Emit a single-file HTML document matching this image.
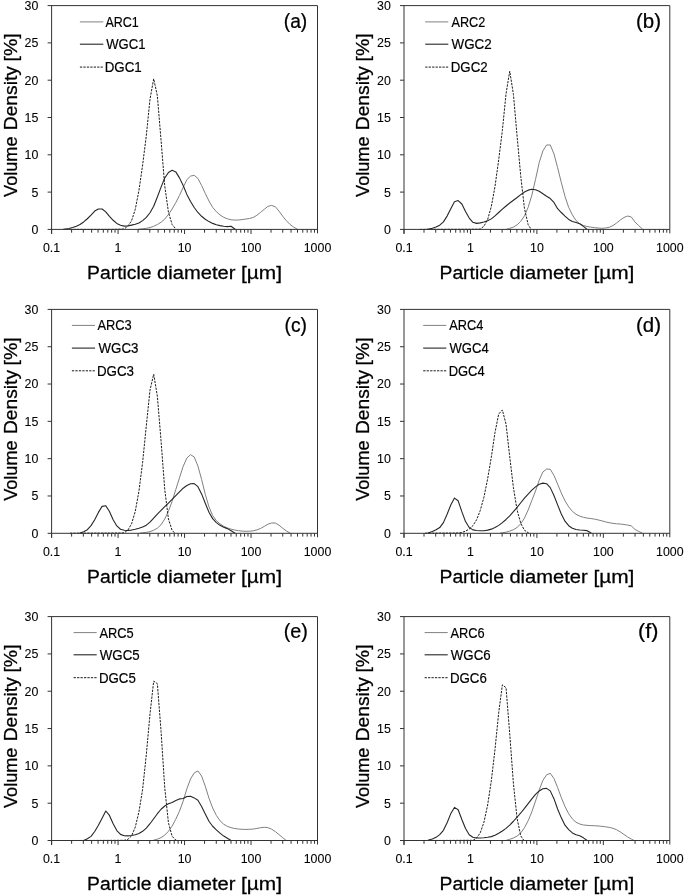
<!DOCTYPE html>
<html><head><meta charset="utf-8"><title>Particle size distributions</title>
<style>
html,body{margin:0;padding:0;background:#fff;}
body{width:685px;height:895px;overflow:hidden;font-family:"Liberation Sans",sans-serif;}
svg{display:block;will-change:transform;}
text{font-family:"Liberation Sans",sans-serif;fill:#000;}
.tk{font-size:12.4px;stroke:#000;stroke-width:0.08px;}
.ti{font-size:19.2px;stroke:#000;stroke-width:0.28px;}
.lg{font-size:14.7px;stroke:#000;stroke-width:0.18px;}
.pl{font-size:19.6px;stroke:#000;stroke-width:0.24px;}
</style></head><body>
<svg width="685" height="895" viewBox="0 0 685 895">
<rect width="685" height="895" fill="#fff"/>
<g>
<path d="M137.90 229.30L138.94 229.19L142.63 228.82L146.31 228.34L150.00 227.53L153.69 226.32L157.37 224.53L161.06 222.28L164.74 219.04L168.43 214.50L172.11 208.99L175.80 202.59L179.48 195.45L183.17 187.49L186.85 179.67L190.54 176.11L194.22 175.33L197.91 178.44L201.59 185.42L205.28 193.46L208.97 201.01L212.65 207.33L216.34 211.63L220.02 214.93L223.71 217.31L227.39 218.80L231.08 219.79L234.76 220.10L238.45 219.99L242.13 219.59L245.82 219.03L249.50 218.51L253.19 217.48L256.88 215.29L260.56 212.40L264.25 209.27L267.93 206.34L271.62 205.44L275.30 206.75L278.99 211.03L282.67 216.20L286.36 220.69L290.04 224.40L293.73 227.13L297.50 229.30" fill="none" stroke="#808080" stroke-width="1.00" stroke-linejoin="round"/>
<path d="M63.30 229.40L65.24 229.07L68.92 228.44L72.61 227.57L76.29 226.31L79.98 224.54L83.66 221.95L87.35 218.74L91.03 215.06L94.72 211.03L98.40 208.99L102.09 208.99L105.78 211.82L109.46 216.45L113.15 220.29L116.83 223.40L120.52 225.18L124.20 226.14L127.89 226.00L131.57 225.16L135.26 224.29L138.94 223.02L142.63 220.61L146.31 217.30L150.00 212.77L153.69 206.19L157.37 197.06L161.06 187.13L164.74 178.04L168.43 172.46L172.11 170.32L175.80 171.91L179.48 177.87L183.17 185.50L186.85 194.40L190.54 201.49L194.22 207.54L197.91 212.49L201.59 216.26L205.28 219.29L208.97 221.61L212.65 223.38L216.34 224.69L220.02 225.61L223.71 226.29L227.39 226.67L231.08 226.19L234.76 228.99L235.20 229.40" fill="none" stroke="#262626" stroke-width="1.10" stroke-linejoin="round"/>
<path d="M70.00 229.40L72.61 229.39L76.29 229.39L79.98 229.40L83.66 229.40L87.35 229.40L91.03 229.40L94.72 229.40L98.40 229.40L102.09 229.39L105.78 229.37L109.46 229.35L113.15 229.32L116.83 229.27L120.52 229.18L124.20 229.01L127.89 225.97L131.57 220.80L135.26 209.36L138.94 190.54L142.63 164.94L146.31 135.71L150.00 99.16L153.69 78.83L157.37 95.94L161.06 140.35L164.74 185.90L168.43 212.11L172.11 224.54L175.70 228.80" fill="none" stroke="#1c1c1c" stroke-width="1.00" stroke-dasharray="2.3 1.15" stroke-linejoin="round"/>
<path d="M47.60 5.60H317.50V233.40" fill="none" stroke="#333333" stroke-width="1"/>
<path d="M51.60 5.60V233.60H51.60" fill="none" stroke="#333333" stroke-width="1"/>
<path d="M47.60 229.40H317.50" fill="none" stroke="#333333" stroke-width="1"/>
<path d="M47.60 192.10H51.60M47.60 154.80H51.60M47.60 117.50H51.60M47.60 80.20H51.60M47.60 42.90H51.60M51.60 229.40V234.00M71.61 229.40V232.70M83.32 229.40V232.70M91.62 229.40V232.70M98.06 229.40V232.70M103.33 229.40V232.70M107.78 229.40V232.70M111.63 229.40V232.70M115.03 229.40V232.70M118.07 229.40V234.00M138.09 229.40V232.70M149.79 229.40V232.70M158.10 229.40V232.70M164.54 229.40V232.70M169.80 229.40V232.70M174.25 229.40V232.70M178.11 229.40V232.70M181.51 229.40V232.70M184.55 229.40V234.00M204.56 229.40V232.70M216.27 229.40V232.70M224.57 229.40V232.70M231.01 229.40V232.70M236.28 229.40V232.70M240.73 229.40V232.70M244.58 229.40V232.70M247.98 229.40V232.70M251.02 229.40V234.00M271.04 229.40V232.70M282.74 229.40V232.70M291.05 229.40V232.70M297.49 229.40V232.70M302.75 229.40V232.70M307.20 229.40V232.70M311.06 229.40V232.70M314.46 229.40V232.70" fill="none" stroke="#333333" stroke-width="1"/>
<text class="tk" x="38.40" y="233.85" text-anchor="end">0</text>
<text class="tk" x="38.40" y="196.55" text-anchor="end">5</text>
<text class="tk" x="38.40" y="159.25" text-anchor="end">10</text>
<text class="tk" x="38.40" y="121.95" text-anchor="end">15</text>
<text class="tk" x="38.40" y="84.65" text-anchor="end">20</text>
<text class="tk" x="38.40" y="47.35" text-anchor="end">25</text>
<text class="tk" x="38.40" y="10.05" text-anchor="end">30</text>
<text class="tk" x="51.60" y="252.30" text-anchor="middle">0.1</text>
<text class="tk" x="118.07" y="252.30" text-anchor="middle">1</text>
<text class="tk" x="184.55" y="252.30" text-anchor="middle">10</text>
<text class="tk" x="251.02" y="252.30" text-anchor="middle">100</text>
<text class="tk" x="317.50" y="252.30" text-anchor="middle">1000</text>
<text class="ti" x="87.10" y="278.90" textLength="64.40" lengthAdjust="spacingAndGlyphs">Particle</text>
<text class="ti" x="157.00" y="278.90" textLength="78.40" lengthAdjust="spacingAndGlyphs">diameter</text>
<text class="ti" x="241.00" y="278.90" textLength="41.00" lengthAdjust="spacingAndGlyphs">[µm]</text>
<text class="ti" transform="translate(17.00 196.90) rotate(-90)" textLength="60.40" lengthAdjust="spacingAndGlyphs">Volume</text>
<text class="ti" transform="translate(17.00 130.20) rotate(-90)" textLength="64.10" lengthAdjust="spacingAndGlyphs">Density</text>
<text class="ti" transform="translate(17.00 61.50) rotate(-90)" textLength="28.20" lengthAdjust="spacingAndGlyphs">[%]</text>
<path d="M79.90 21.90H103.30" stroke="#808080" stroke-width="1.00"/>
<text class="lg" x="105.50" y="26.90" textLength="33.29" lengthAdjust="spacingAndGlyphs">ARC1</text>
<path d="M79.90 44.20H103.30" stroke="#262626" stroke-width="1.10"/>
<text class="lg" x="106.26" y="49.20" textLength="39.30" lengthAdjust="spacingAndGlyphs">WGC1</text>
<path d="M79.90 67.10H103.30" stroke="#1c1c1c" stroke-width="1.00" stroke-dasharray="2.3 1.15"/>
<text class="lg" x="104.66" y="72.10" textLength="37.06" lengthAdjust="spacingAndGlyphs">DGC1</text>
<text class="pl" x="283.76" y="28.40" textLength="23.51" lengthAdjust="spacingAndGlyphs">(a)</text>
</g>
<g>
<path d="M506.30 229.30L509.73 228.34L513.42 227.07L517.10 224.86L520.78 221.28L524.47 215.77L528.15 207.31L531.84 195.26L535.52 179.38L539.20 162.60L542.89 150.95L546.57 144.96L550.26 144.99L553.94 153.79L557.62 167.66L561.31 182.50L564.99 196.39L568.68 207.39L572.36 214.88L576.04 220.54L579.73 223.75L583.41 225.52L587.10 226.47L590.78 227.14L594.46 227.60L598.15 228.04L601.83 228.31L605.52 228.03L609.20 227.25L612.88 225.64L616.57 223.06L620.25 220.04L623.94 217.51L627.62 216.02L631.30 217.00L634.99 222.03L638.67 225.53L642.36 228.98L642.80 229.40" fill="none" stroke="#808080" stroke-width="1.00" stroke-linejoin="round"/>
<path d="M426.60 229.30L428.68 228.96L432.37 228.27L436.05 227.06L439.74 225.15L443.42 221.85L447.10 216.12L450.79 208.81L454.47 201.80L458.16 200.59L461.84 203.99L465.52 211.43L469.21 218.08L472.89 222.28L476.58 223.39L480.26 222.85L483.94 222.06L487.63 220.82L491.31 218.88L495.00 215.90L498.68 212.48L502.36 209.20L506.05 205.97L509.73 202.98L513.42 200.26L517.10 197.54L520.78 194.63L524.47 191.94L528.15 190.15L531.84 189.24L535.52 189.75L539.20 191.30L542.89 193.71L546.57 196.22L550.26 198.56L553.94 202.43L557.62 208.73L561.31 212.51L564.99 216.07L568.68 219.41L572.36 221.41L576.04 222.59L579.73 223.76L583.41 226.33L587.20 229.40" fill="none" stroke="#262626" stroke-width="1.10" stroke-linejoin="round"/>
<path d="M420.00 229.40L421.32 229.40L425.00 229.38L428.68 229.37L432.37 229.36L436.05 229.35L439.74 229.34L443.42 229.33L447.10 229.32L450.79 229.31L454.47 229.30L458.16 229.29L461.84 229.27L465.52 229.26L469.21 229.24L472.89 229.21L476.58 229.19L480.26 229.09L483.94 226.24L487.63 219.55L491.31 206.55L495.00 186.53L498.68 160.01L502.36 130.47L506.05 93.72L509.73 71.21L513.42 94.39L517.10 136.20L520.78 176.44L524.47 208.53L528.15 224.63L530.80 228.80" fill="none" stroke="#1c1c1c" stroke-width="1.00" stroke-dasharray="2.3 1.15" stroke-linejoin="round"/>
<path d="M400.00 5.60H669.80V233.40" fill="none" stroke="#333333" stroke-width="1"/>
<path d="M404.00 5.60V233.60H404.00" fill="none" stroke="#333333" stroke-width="1"/>
<path d="M400.00 229.40H669.80" fill="none" stroke="#333333" stroke-width="1"/>
<path d="M400.00 192.10H404.00M400.00 154.80H404.00M400.00 117.50H404.00M400.00 80.20H404.00M400.00 42.90H404.00M404.00 229.40V234.00M424.00 229.40V232.70M435.70 229.40V232.70M444.01 229.40V232.70M450.45 229.40V232.70M455.71 229.40V232.70M460.16 229.40V232.70M464.01 229.40V232.70M467.41 229.40V232.70M470.45 229.40V234.00M490.45 229.40V232.70M502.15 229.40V232.70M510.46 229.40V232.70M516.90 229.40V232.70M522.16 229.40V232.70M526.61 229.40V232.70M530.46 229.40V232.70M533.86 229.40V232.70M536.90 229.40V234.00M556.90 229.40V232.70M568.60 229.40V232.70M576.91 229.40V232.70M583.35 229.40V232.70M588.61 229.40V232.70M593.06 229.40V232.70M596.91 229.40V232.70M600.31 229.40V232.70M603.35 229.40V234.00M623.35 229.40V232.70M635.05 229.40V232.70M643.36 229.40V232.70M649.80 229.40V232.70M655.06 229.40V232.70M659.51 229.40V232.70M663.36 229.40V232.70M666.76 229.40V232.70" fill="none" stroke="#333333" stroke-width="1"/>
<text class="tk" x="390.80" y="233.85" text-anchor="end">0</text>
<text class="tk" x="390.80" y="196.55" text-anchor="end">5</text>
<text class="tk" x="390.80" y="159.25" text-anchor="end">10</text>
<text class="tk" x="390.80" y="121.95" text-anchor="end">15</text>
<text class="tk" x="390.80" y="84.65" text-anchor="end">20</text>
<text class="tk" x="390.80" y="47.35" text-anchor="end">25</text>
<text class="tk" x="390.80" y="10.05" text-anchor="end">30</text>
<text class="tk" x="404.00" y="252.30" text-anchor="middle">0.1</text>
<text class="tk" x="470.45" y="252.30" text-anchor="middle">1</text>
<text class="tk" x="536.90" y="252.30" text-anchor="middle">10</text>
<text class="tk" x="603.35" y="252.30" text-anchor="middle">100</text>
<text class="tk" x="669.80" y="252.30" text-anchor="middle">1000</text>
<text class="ti" x="439.50" y="278.90" textLength="64.40" lengthAdjust="spacingAndGlyphs">Particle</text>
<text class="ti" x="509.40" y="278.90" textLength="78.40" lengthAdjust="spacingAndGlyphs">diameter</text>
<text class="ti" x="593.40" y="278.90" textLength="41.00" lengthAdjust="spacingAndGlyphs">[µm]</text>
<text class="ti" transform="translate(369.40 196.90) rotate(-90)" textLength="60.40" lengthAdjust="spacingAndGlyphs">Volume</text>
<text class="ti" transform="translate(369.40 130.20) rotate(-90)" textLength="64.10" lengthAdjust="spacingAndGlyphs">Density</text>
<text class="ti" transform="translate(369.40 61.50) rotate(-90)" textLength="28.20" lengthAdjust="spacingAndGlyphs">[%]</text>
<path d="M425.20 21.90H448.30" stroke="#808080" stroke-width="1.00"/>
<text class="lg" x="451.52" y="26.90" textLength="33.79" lengthAdjust="spacingAndGlyphs">ARC2</text>
<path d="M425.20 44.20H448.30" stroke="#262626" stroke-width="1.10"/>
<text class="lg" x="451.50" y="49.20" textLength="40.20" lengthAdjust="spacingAndGlyphs">WGC2</text>
<path d="M425.20 67.10H448.30" stroke="#1c1c1c" stroke-width="1.00" stroke-dasharray="2.3 1.15"/>
<text class="lg" x="450.70" y="72.10" textLength="36.96" lengthAdjust="spacingAndGlyphs">DGC2</text>
<text class="pl" x="636.00" y="28.40" textLength="24.97" lengthAdjust="spacingAndGlyphs">(b)</text>
</g>
<g>
<path d="M139.90 533.10L142.63 532.81L146.31 532.37L150.00 531.63L153.69 530.24L157.37 528.18L161.06 524.77L164.74 518.98L168.43 511.27L172.11 501.35L175.80 489.54L179.48 477.86L183.17 466.41L186.85 458.08L190.54 454.66L194.22 457.01L197.91 466.05L201.59 479.39L205.28 494.29L208.97 506.89L212.65 515.58L216.34 520.62L220.02 523.90L223.71 526.24L227.39 527.97L231.08 529.18L234.76 530.04L238.45 530.65L242.13 531.10L245.82 531.31L249.50 531.20L253.19 530.81L256.88 529.92L260.56 528.45L264.25 526.39L267.93 524.19L271.62 522.96L275.30 523.02L278.99 525.17L282.67 528.26L286.36 530.97L290.04 533.03L290.40 533.20" fill="none" stroke="#808080" stroke-width="1.00" stroke-linejoin="round"/>
<path d="M79.60 533.10L79.98 532.96L83.66 531.66L87.35 529.69L91.03 525.60L94.72 519.71L98.40 512.38L102.09 506.35L105.78 505.68L109.46 511.43L113.15 519.82L116.83 525.92L120.52 529.24L124.20 530.24L127.89 530.55L131.57 530.08L135.26 529.24L138.94 528.28L142.63 527.10L146.31 525.14L150.00 522.09L153.69 518.12L157.37 514.09L161.06 510.35L164.74 506.66L168.43 503.02L172.11 499.39L175.80 495.66L179.48 491.91L183.17 488.23L186.85 485.47L190.54 483.78L194.22 483.61L197.91 486.63L201.59 493.90L205.28 503.29L208.97 512.27L212.65 518.63L216.34 522.57L220.02 525.35L223.71 527.27L227.39 528.63L231.08 530.75L234.76 532.95L235.20 533.20" fill="none" stroke="#262626" stroke-width="1.10" stroke-linejoin="round"/>
<path d="M70.00 533.20L72.61 533.19L76.29 533.18L79.98 533.17L83.66 533.16L87.35 533.15L91.03 533.13L94.72 533.12L98.40 533.11L102.09 533.09L105.78 533.08L109.46 533.06L113.15 533.04L116.83 533.01L120.52 532.99L124.20 532.82L127.89 530.04L131.57 523.87L135.26 511.41L138.94 491.20L142.63 462.20L146.31 425.80L150.00 390.20L153.69 374.20L157.37 396.19L161.06 441.02L164.74 489.42L168.43 518.94L172.11 530.37L174.70 533.00" fill="none" stroke="#1c1c1c" stroke-width="1.00" stroke-dasharray="2.3 1.15" stroke-linejoin="round"/>
<path d="M47.60 309.40H317.50V537.30" fill="none" stroke="#333333" stroke-width="1"/>
<path d="M51.60 309.40V537.50H51.60" fill="none" stroke="#333333" stroke-width="1"/>
<path d="M47.60 533.30H317.50" fill="none" stroke="#333333" stroke-width="1"/>
<path d="M47.60 495.98H51.60M47.60 458.67H51.60M47.60 421.35H51.60M47.60 384.03H51.60M47.60 346.72H51.60M51.60 533.30V537.90M71.61 533.30V536.60M83.32 533.30V536.60M91.62 533.30V536.60M98.06 533.30V536.60M103.33 533.30V536.60M107.78 533.30V536.60M111.63 533.30V536.60M115.03 533.30V536.60M118.07 533.30V537.90M138.09 533.30V536.60M149.79 533.30V536.60M158.10 533.30V536.60M164.54 533.30V536.60M169.80 533.30V536.60M174.25 533.30V536.60M178.11 533.30V536.60M181.51 533.30V536.60M184.55 533.30V537.90M204.56 533.30V536.60M216.27 533.30V536.60M224.57 533.30V536.60M231.01 533.30V536.60M236.28 533.30V536.60M240.73 533.30V536.60M244.58 533.30V536.60M247.98 533.30V536.60M251.02 533.30V537.90M271.04 533.30V536.60M282.74 533.30V536.60M291.05 533.30V536.60M297.49 533.30V536.60M302.75 533.30V536.60M307.20 533.30V536.60M311.06 533.30V536.60M314.46 533.30V536.60" fill="none" stroke="#333333" stroke-width="1"/>
<text class="tk" x="38.40" y="537.75" text-anchor="end">0</text>
<text class="tk" x="38.40" y="500.43" text-anchor="end">5</text>
<text class="tk" x="38.40" y="463.12" text-anchor="end">10</text>
<text class="tk" x="38.40" y="425.80" text-anchor="end">15</text>
<text class="tk" x="38.40" y="388.48" text-anchor="end">20</text>
<text class="tk" x="38.40" y="351.17" text-anchor="end">25</text>
<text class="tk" x="38.40" y="313.85" text-anchor="end">30</text>
<text class="tk" x="51.60" y="556.20" text-anchor="middle">0.1</text>
<text class="tk" x="118.07" y="556.20" text-anchor="middle">1</text>
<text class="tk" x="184.55" y="556.20" text-anchor="middle">10</text>
<text class="tk" x="251.02" y="556.20" text-anchor="middle">100</text>
<text class="tk" x="317.50" y="556.20" text-anchor="middle">1000</text>
<text class="ti" x="87.10" y="582.80" textLength="64.40" lengthAdjust="spacingAndGlyphs">Particle</text>
<text class="ti" x="157.00" y="582.80" textLength="78.40" lengthAdjust="spacingAndGlyphs">diameter</text>
<text class="ti" x="241.00" y="582.80" textLength="41.00" lengthAdjust="spacingAndGlyphs">[µm]</text>
<text class="ti" transform="translate(17.00 500.80) rotate(-90)" textLength="60.40" lengthAdjust="spacingAndGlyphs">Volume</text>
<text class="ti" transform="translate(17.00 434.10) rotate(-90)" textLength="64.10" lengthAdjust="spacingAndGlyphs">Density</text>
<text class="ti" transform="translate(17.00 365.40) rotate(-90)" textLength="28.20" lengthAdjust="spacingAndGlyphs">[%]</text>
<path d="M71.90 325.40H95.00" stroke="#808080" stroke-width="1.00"/>
<text class="lg" x="97.48" y="330.40" textLength="34.30" lengthAdjust="spacingAndGlyphs">ARC3</text>
<path d="M71.90 348.10H95.00" stroke="#262626" stroke-width="1.10"/>
<text class="lg" x="98.52" y="353.10" textLength="39.89" lengthAdjust="spacingAndGlyphs">WGC3</text>
<path d="M71.90 370.80H95.00" stroke="#1c1c1c" stroke-width="1.00" stroke-dasharray="2.3 1.15"/>
<text class="lg" x="96.92" y="375.80" textLength="37.06" lengthAdjust="spacingAndGlyphs">DGC3</text>
<text class="pl" x="284.50" y="331.80" textLength="22.38" lengthAdjust="spacingAndGlyphs">(c)</text>
</g>
<g>
<path d="M500.10 533.10L502.36 532.77L506.05 532.17L509.73 531.13L513.42 529.67L517.10 527.45L520.78 523.79L524.47 518.07L528.15 510.05L531.84 500.42L535.52 491.01L539.20 480.18L542.89 472.01L546.57 469.03L550.26 469.28L553.94 475.32L557.62 484.07L561.31 493.00L564.99 500.85L568.68 506.84L572.36 511.34L576.04 514.29L579.73 516.08L583.41 517.31L587.10 518.08L590.78 518.55L594.46 519.10L598.15 519.93L601.83 520.84L605.52 521.86L609.20 522.71L612.88 523.34L616.57 523.78L620.25 524.04L623.94 524.46L627.62 525.08L631.30 525.86L634.99 529.44L638.67 531.39L642.40 533.20" fill="none" stroke="#808080" stroke-width="1.00" stroke-linejoin="round"/>
<path d="M427.60 533.10L428.68 532.73L432.37 531.48L436.05 529.83L439.74 527.59L443.42 522.63L447.10 514.20L450.79 505.05L454.47 498.09L458.16 500.81L461.84 511.65L465.52 521.57L469.21 527.57L472.89 529.90L476.58 530.55L480.26 530.72L483.94 530.71L487.63 530.15L491.31 529.15L495.00 527.57L498.68 525.40L502.36 522.65L506.05 519.46L509.73 515.83L513.42 511.73L517.10 507.38L520.78 502.72L524.47 498.08L528.15 494.01L531.84 490.19L535.52 486.83L539.20 484.30L542.89 483.11L546.57 483.69L550.26 487.64L553.94 495.45L557.62 504.91L561.31 513.97L564.99 521.17L568.68 525.69L572.36 528.22L576.04 529.50L579.73 530.05L583.41 530.31L587.10 530.67L590.78 532.82L591.30 533.20" fill="none" stroke="#262626" stroke-width="1.10" stroke-linejoin="round"/>
<path d="M425.00 533.20L428.68 533.18L432.37 533.16L436.05 533.14L439.74 533.12L443.42 533.10L447.10 533.08L450.79 533.05L454.47 533.01L458.16 532.98L461.84 532.45L465.52 531.14L469.21 529.00L472.89 525.69L476.58 519.79L480.26 510.50L483.94 497.19L487.63 478.89L491.31 457.23L495.00 432.43L498.68 414.09L502.36 409.95L506.05 424.29L509.73 456.76L513.42 487.72L517.10 510.14L520.78 523.41L524.47 530.25L528.15 532.67L528.80 533.00" fill="none" stroke="#1c1c1c" stroke-width="1.00" stroke-dasharray="2.3 1.15" stroke-linejoin="round"/>
<path d="M400.00 309.40H669.80V537.30" fill="none" stroke="#333333" stroke-width="1"/>
<path d="M404.00 309.40V537.50H404.00" fill="none" stroke="#333333" stroke-width="1"/>
<path d="M400.00 533.30H669.80" fill="none" stroke="#333333" stroke-width="1"/>
<path d="M400.00 495.98H404.00M400.00 458.67H404.00M400.00 421.35H404.00M400.00 384.03H404.00M400.00 346.72H404.00M404.00 533.30V537.90M424.00 533.30V536.60M435.70 533.30V536.60M444.01 533.30V536.60M450.45 533.30V536.60M455.71 533.30V536.60M460.16 533.30V536.60M464.01 533.30V536.60M467.41 533.30V536.60M470.45 533.30V537.90M490.45 533.30V536.60M502.15 533.30V536.60M510.46 533.30V536.60M516.90 533.30V536.60M522.16 533.30V536.60M526.61 533.30V536.60M530.46 533.30V536.60M533.86 533.30V536.60M536.90 533.30V537.90M556.90 533.30V536.60M568.60 533.30V536.60M576.91 533.30V536.60M583.35 533.30V536.60M588.61 533.30V536.60M593.06 533.30V536.60M596.91 533.30V536.60M600.31 533.30V536.60M603.35 533.30V537.90M623.35 533.30V536.60M635.05 533.30V536.60M643.36 533.30V536.60M649.80 533.30V536.60M655.06 533.30V536.60M659.51 533.30V536.60M663.36 533.30V536.60M666.76 533.30V536.60" fill="none" stroke="#333333" stroke-width="1"/>
<text class="tk" x="390.80" y="537.75" text-anchor="end">0</text>
<text class="tk" x="390.80" y="500.43" text-anchor="end">5</text>
<text class="tk" x="390.80" y="463.12" text-anchor="end">10</text>
<text class="tk" x="390.80" y="425.80" text-anchor="end">15</text>
<text class="tk" x="390.80" y="388.48" text-anchor="end">20</text>
<text class="tk" x="390.80" y="351.17" text-anchor="end">25</text>
<text class="tk" x="390.80" y="313.85" text-anchor="end">30</text>
<text class="tk" x="404.00" y="556.20" text-anchor="middle">0.1</text>
<text class="tk" x="470.45" y="556.20" text-anchor="middle">1</text>
<text class="tk" x="536.90" y="556.20" text-anchor="middle">10</text>
<text class="tk" x="603.35" y="556.20" text-anchor="middle">100</text>
<text class="tk" x="669.80" y="556.20" text-anchor="middle">1000</text>
<text class="ti" x="439.50" y="582.80" textLength="64.40" lengthAdjust="spacingAndGlyphs">Particle</text>
<text class="ti" x="509.40" y="582.80" textLength="78.40" lengthAdjust="spacingAndGlyphs">diameter</text>
<text class="ti" x="593.40" y="582.80" textLength="41.00" lengthAdjust="spacingAndGlyphs">[µm]</text>
<text class="ti" transform="translate(369.40 500.80) rotate(-90)" textLength="60.40" lengthAdjust="spacingAndGlyphs">Volume</text>
<text class="ti" transform="translate(369.40 434.10) rotate(-90)" textLength="64.10" lengthAdjust="spacingAndGlyphs">Density</text>
<text class="ti" transform="translate(369.40 365.40) rotate(-90)" textLength="28.20" lengthAdjust="spacingAndGlyphs">[%]</text>
<path d="M423.20 325.40H446.30" stroke="#808080" stroke-width="1.00"/>
<text class="lg" x="449.26" y="330.40" textLength="34.09" lengthAdjust="spacingAndGlyphs">ARC4</text>
<path d="M423.20 348.10H446.30" stroke="#262626" stroke-width="1.10"/>
<text class="lg" x="449.50" y="353.10" textLength="39.19" lengthAdjust="spacingAndGlyphs">WGC4</text>
<path d="M423.20 370.80H446.30" stroke="#1c1c1c" stroke-width="1.00" stroke-dasharray="2.3 1.15"/>
<text class="lg" x="448.70" y="375.80" textLength="35.96" lengthAdjust="spacingAndGlyphs">DGC4</text>
<text class="pl" x="636.00" y="331.80" textLength="24.97" lengthAdjust="spacingAndGlyphs">(d)</text>
</g>
<g>
<path d="M153.20 840.30L153.69 840.16L157.37 839.15L161.06 837.65L164.74 835.16L168.43 831.29L172.11 826.09L175.80 819.18L179.48 811.19L183.17 801.14L186.85 788.88L190.54 778.96L194.22 772.91L197.91 770.92L201.59 775.99L205.28 786.17L208.97 798.24L212.65 807.96L216.34 815.42L220.02 820.75L223.71 824.23L227.39 826.37L231.08 827.69L234.76 828.52L238.45 829.03L242.13 829.33L245.82 829.40L249.50 829.31L253.19 829.04L256.88 828.45L260.56 827.72L264.25 827.26L267.93 827.70L271.62 829.17L275.30 831.61L278.99 834.60L282.67 837.68L286.30 840.50" fill="none" stroke="#808080" stroke-width="1.00" stroke-linejoin="round"/>
<path d="M83.70 840.40L87.35 838.72L91.03 836.38L94.72 831.49L98.40 825.25L102.09 818.25L105.78 811.00L109.46 815.44L113.15 823.78L116.83 830.60L120.52 834.36L124.20 835.70L127.89 835.90L131.57 835.52L135.26 834.77L138.94 833.48L142.63 831.32L146.31 828.09L150.00 823.72L153.69 818.78L157.37 813.70L161.06 809.26L164.74 805.97L168.43 803.85L172.11 802.42L175.80 800.52L179.48 798.91L183.17 798.50L186.85 796.43L190.54 796.22L194.22 797.89L197.91 800.26L201.59 806.44L205.28 814.00L208.97 821.21L212.65 826.24L216.34 829.89L220.02 833.18L223.71 836.06L227.39 838.24L231.10 840.50" fill="none" stroke="#262626" stroke-width="1.10" stroke-linejoin="round"/>
<path d="M72.00 840.50L72.61 840.50L76.29 840.48L79.98 840.47L83.66 840.46L87.35 840.45L91.03 840.43L94.72 840.42L98.40 840.41L102.09 840.39L105.78 840.38L109.46 840.36L113.15 840.35L116.83 840.32L120.52 840.30L124.20 840.32L127.89 839.38L131.57 835.85L135.26 827.16L138.94 811.84L142.63 789.28L146.31 754.58L150.00 714.01L153.69 681.16L157.37 683.68L161.06 731.32L164.74 787.72L168.43 822.73L172.11 836.28L175.80 840.02L176.70 840.40" fill="none" stroke="#1c1c1c" stroke-width="1.00" stroke-dasharray="2.3 1.15" stroke-linejoin="round"/>
<path d="M47.60 616.60H317.50V844.50" fill="none" stroke="#333333" stroke-width="1"/>
<path d="M51.60 616.60V844.70H51.60" fill="none" stroke="#333333" stroke-width="1"/>
<path d="M47.60 840.50H317.50" fill="none" stroke="#333333" stroke-width="1"/>
<path d="M47.60 803.18H51.60M47.60 765.87H51.60M47.60 728.55H51.60M47.60 691.23H51.60M47.60 653.92H51.60M51.60 840.50V845.10M71.61 840.50V843.80M83.32 840.50V843.80M91.62 840.50V843.80M98.06 840.50V843.80M103.33 840.50V843.80M107.78 840.50V843.80M111.63 840.50V843.80M115.03 840.50V843.80M118.07 840.50V845.10M138.09 840.50V843.80M149.79 840.50V843.80M158.10 840.50V843.80M164.54 840.50V843.80M169.80 840.50V843.80M174.25 840.50V843.80M178.11 840.50V843.80M181.51 840.50V843.80M184.55 840.50V845.10M204.56 840.50V843.80M216.27 840.50V843.80M224.57 840.50V843.80M231.01 840.50V843.80M236.28 840.50V843.80M240.73 840.50V843.80M244.58 840.50V843.80M247.98 840.50V843.80M251.02 840.50V845.10M271.04 840.50V843.80M282.74 840.50V843.80M291.05 840.50V843.80M297.49 840.50V843.80M302.75 840.50V843.80M307.20 840.50V843.80M311.06 840.50V843.80M314.46 840.50V843.80" fill="none" stroke="#333333" stroke-width="1"/>
<text class="tk" x="38.40" y="844.95" text-anchor="end">0</text>
<text class="tk" x="38.40" y="807.63" text-anchor="end">5</text>
<text class="tk" x="38.40" y="770.32" text-anchor="end">10</text>
<text class="tk" x="38.40" y="733.00" text-anchor="end">15</text>
<text class="tk" x="38.40" y="695.68" text-anchor="end">20</text>
<text class="tk" x="38.40" y="658.37" text-anchor="end">25</text>
<text class="tk" x="38.40" y="621.05" text-anchor="end">30</text>
<text class="tk" x="51.60" y="863.40" text-anchor="middle">0.1</text>
<text class="tk" x="118.07" y="863.40" text-anchor="middle">1</text>
<text class="tk" x="184.55" y="863.40" text-anchor="middle">10</text>
<text class="tk" x="251.02" y="863.40" text-anchor="middle">100</text>
<text class="tk" x="317.50" y="863.40" text-anchor="middle">1000</text>
<text class="ti" x="87.10" y="890.00" textLength="64.40" lengthAdjust="spacingAndGlyphs">Particle</text>
<text class="ti" x="157.00" y="890.00" textLength="78.40" lengthAdjust="spacingAndGlyphs">diameter</text>
<text class="ti" x="241.00" y="890.00" textLength="41.00" lengthAdjust="spacingAndGlyphs">[µm]</text>
<text class="ti" transform="translate(17.00 808.00) rotate(-90)" textLength="60.40" lengthAdjust="spacingAndGlyphs">Volume</text>
<text class="ti" transform="translate(17.00 741.30) rotate(-90)" textLength="64.10" lengthAdjust="spacingAndGlyphs">Density</text>
<text class="ti" transform="translate(17.00 672.60) rotate(-90)" textLength="28.20" lengthAdjust="spacingAndGlyphs">[%]</text>
<path d="M73.60 632.60H96.70" stroke="#808080" stroke-width="1.00"/>
<text class="lg" x="99.50" y="637.60" textLength="34.21" lengthAdjust="spacingAndGlyphs">ARC5</text>
<path d="M73.60 654.80H96.70" stroke="#262626" stroke-width="1.10"/>
<text class="lg" x="99.74" y="659.80" textLength="39.89" lengthAdjust="spacingAndGlyphs">WGC5</text>
<path d="M73.60 677.70H96.70" stroke="#1c1c1c" stroke-width="1.00" stroke-dasharray="2.3 1.15"/>
<text class="lg" x="98.94" y="682.70" textLength="36.92" lengthAdjust="spacingAndGlyphs">DGC5</text>
<text class="pl" x="283.76" y="638.30" textLength="24.16" lengthAdjust="spacingAndGlyphs">(e)</text>
</g>
<g>
<path d="M506.30 840.30L509.73 839.31L513.42 837.99L517.10 836.04L520.78 832.88L524.47 827.68L528.15 820.75L531.84 811.85L535.52 801.08L539.20 790.08L542.89 780.43L546.57 774.85L550.26 773.33L553.94 778.41L557.62 787.49L561.31 797.55L564.99 806.56L568.68 813.71L572.36 818.94L576.04 822.23L579.73 824.01L583.41 824.97L587.10 825.35L590.78 825.59L594.46 825.74L598.15 825.96L601.83 826.34L605.52 826.82L609.20 827.35L612.88 828.25L616.57 829.72L620.25 831.86L623.94 834.46L627.62 836.97L631.30 839.08L634.20 840.50" fill="none" stroke="#808080" stroke-width="1.00" stroke-linejoin="round"/>
<path d="M427.60 840.40L428.68 840.06L432.37 838.93L436.05 837.36L439.74 834.66L443.42 830.29L447.10 822.73L450.79 813.59L454.47 807.41L458.16 809.75L461.84 819.53L465.52 828.56L469.21 834.76L472.89 837.27L476.58 837.97L480.26 837.97L483.94 837.71L487.63 837.26L491.31 836.61L495.00 835.27L498.68 833.26L502.36 830.96L506.05 828.33L509.73 825.06L513.42 821.25L517.10 817.24L520.78 812.98L524.47 808.41L528.15 803.63L531.84 798.81L535.52 794.39L539.20 790.90L542.89 788.77L546.57 788.39L550.26 790.88L553.94 798.66L557.62 808.97L561.31 817.87L564.99 825.17L568.68 829.67L572.36 832.90L576.04 834.70L579.73 835.82L583.41 837.85L587.20 840.50" fill="none" stroke="#262626" stroke-width="1.10" stroke-linejoin="round"/>
<path d="M425.00 840.50L428.68 840.48L432.37 840.47L436.05 840.46L439.74 840.44L443.42 840.43L447.10 840.41L450.79 840.40L454.47 840.38L458.16 840.36L461.84 840.34L465.52 840.31L469.21 840.29L472.89 840.37L476.58 838.06L480.26 832.85L483.94 822.19L487.63 805.02L491.31 780.84L495.00 749.43L498.68 712.90L502.36 684.89L506.05 687.69L509.73 733.88L513.42 783.59L517.10 818.63L520.78 835.94L523.60 840.00" fill="none" stroke="#1c1c1c" stroke-width="1.00" stroke-dasharray="2.3 1.15" stroke-linejoin="round"/>
<path d="M400.00 616.60H669.80V844.50" fill="none" stroke="#333333" stroke-width="1"/>
<path d="M404.00 616.60V844.70H404.00" fill="none" stroke="#333333" stroke-width="1"/>
<path d="M400.00 840.50H669.80" fill="none" stroke="#333333" stroke-width="1"/>
<path d="M400.00 803.18H404.00M400.00 765.87H404.00M400.00 728.55H404.00M400.00 691.23H404.00M400.00 653.92H404.00M404.00 840.50V845.10M424.00 840.50V843.80M435.70 840.50V843.80M444.01 840.50V843.80M450.45 840.50V843.80M455.71 840.50V843.80M460.16 840.50V843.80M464.01 840.50V843.80M467.41 840.50V843.80M470.45 840.50V845.10M490.45 840.50V843.80M502.15 840.50V843.80M510.46 840.50V843.80M516.90 840.50V843.80M522.16 840.50V843.80M526.61 840.50V843.80M530.46 840.50V843.80M533.86 840.50V843.80M536.90 840.50V845.10M556.90 840.50V843.80M568.60 840.50V843.80M576.91 840.50V843.80M583.35 840.50V843.80M588.61 840.50V843.80M593.06 840.50V843.80M596.91 840.50V843.80M600.31 840.50V843.80M603.35 840.50V845.10M623.35 840.50V843.80M635.05 840.50V843.80M643.36 840.50V843.80M649.80 840.50V843.80M655.06 840.50V843.80M659.51 840.50V843.80M663.36 840.50V843.80M666.76 840.50V843.80" fill="none" stroke="#333333" stroke-width="1"/>
<text class="tk" x="390.80" y="844.95" text-anchor="end">0</text>
<text class="tk" x="390.80" y="807.63" text-anchor="end">5</text>
<text class="tk" x="390.80" y="770.32" text-anchor="end">10</text>
<text class="tk" x="390.80" y="733.00" text-anchor="end">15</text>
<text class="tk" x="390.80" y="695.68" text-anchor="end">20</text>
<text class="tk" x="390.80" y="658.37" text-anchor="end">25</text>
<text class="tk" x="390.80" y="621.05" text-anchor="end">30</text>
<text class="tk" x="404.00" y="863.40" text-anchor="middle">0.1</text>
<text class="tk" x="470.45" y="863.40" text-anchor="middle">1</text>
<text class="tk" x="536.90" y="863.40" text-anchor="middle">10</text>
<text class="tk" x="603.35" y="863.40" text-anchor="middle">100</text>
<text class="tk" x="669.80" y="863.40" text-anchor="middle">1000</text>
<text class="ti" x="439.50" y="890.00" textLength="64.40" lengthAdjust="spacingAndGlyphs">Particle</text>
<text class="ti" x="509.40" y="890.00" textLength="78.40" lengthAdjust="spacingAndGlyphs">diameter</text>
<text class="ti" x="593.40" y="890.00" textLength="41.00" lengthAdjust="spacingAndGlyphs">[µm]</text>
<text class="ti" transform="translate(369.40 808.00) rotate(-90)" textLength="60.40" lengthAdjust="spacingAndGlyphs">Volume</text>
<text class="ti" transform="translate(369.40 741.30) rotate(-90)" textLength="64.10" lengthAdjust="spacingAndGlyphs">Density</text>
<text class="ti" transform="translate(369.40 672.60) rotate(-90)" textLength="28.20" lengthAdjust="spacingAndGlyphs">[%]</text>
<path d="M424.60 632.60H447.70" stroke="#808080" stroke-width="1.00"/>
<text class="lg" x="450.50" y="637.60" textLength="34.21" lengthAdjust="spacingAndGlyphs">ARC6</text>
<path d="M424.60 654.80H447.70" stroke="#262626" stroke-width="1.10"/>
<text class="lg" x="450.74" y="659.80" textLength="39.89" lengthAdjust="spacingAndGlyphs">WGC6</text>
<path d="M424.60 677.70H447.70" stroke="#1c1c1c" stroke-width="1.00" stroke-dasharray="2.3 1.15"/>
<text class="lg" x="449.94" y="682.70" textLength="36.92" lengthAdjust="spacingAndGlyphs">DGC6</text>
<text class="pl" x="638.00" y="638.30" textLength="20.32" lengthAdjust="spacingAndGlyphs">(f)</text>
</g>
</svg>
</body></html>
